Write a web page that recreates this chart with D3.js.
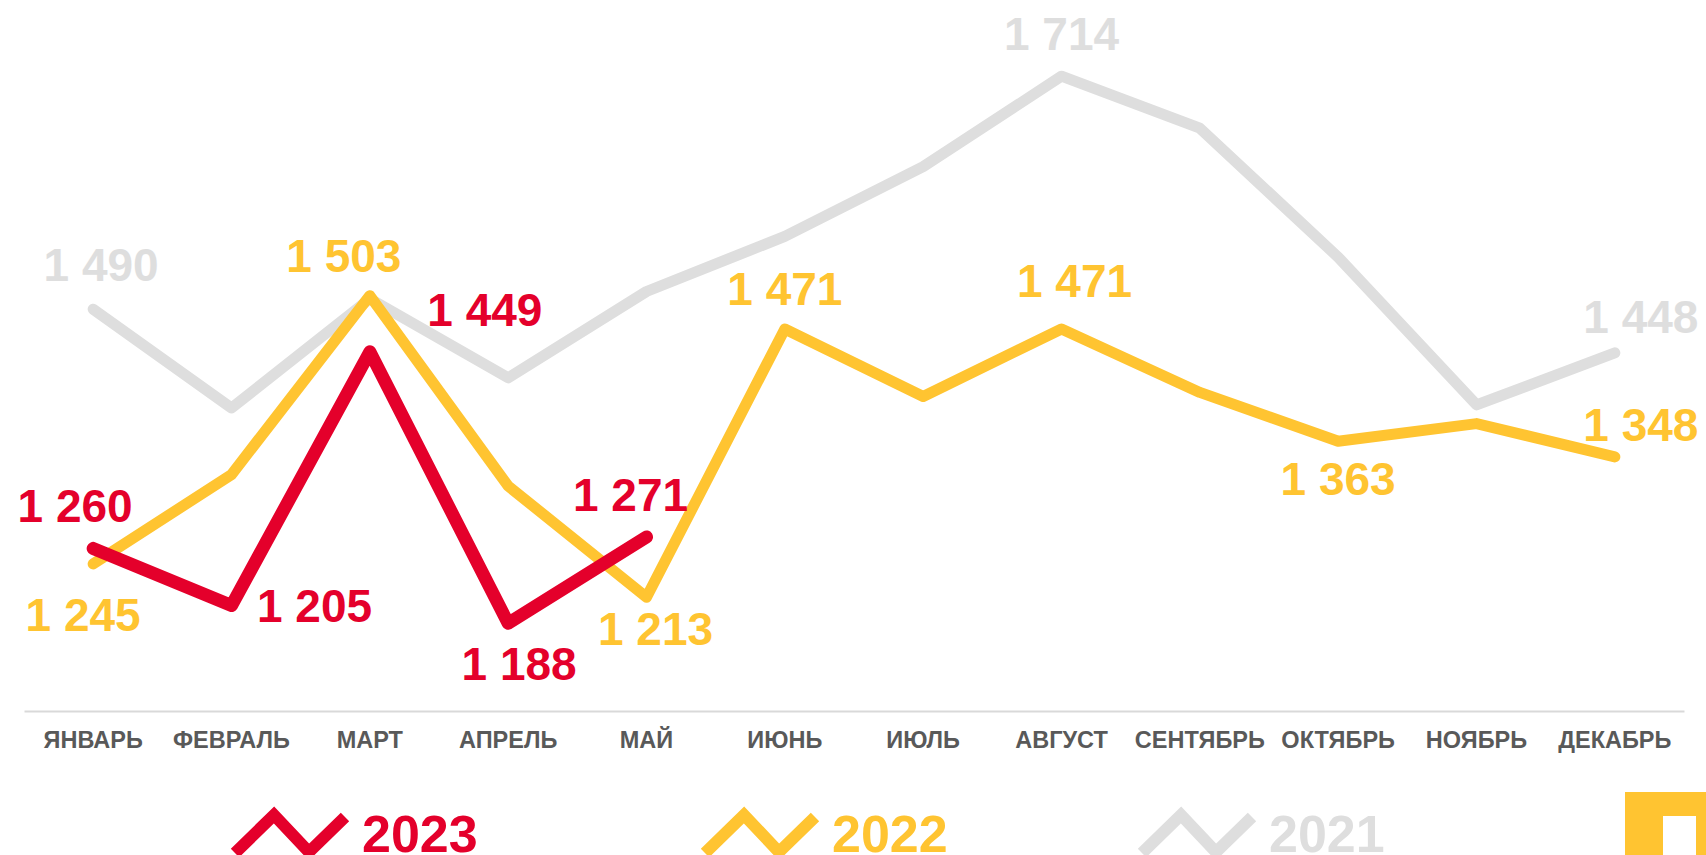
<!DOCTYPE html>
<html>
<head>
<meta charset="utf-8">
<script src="https://cdn.jsdelivr.net/npm/d3@7"></script>
<style>
  html, body { margin: 0; padding: 0; background: #fff; overflow: hidden; }
  svg { display: block; font-family: "Liberation Sans", Arial, sans-serif; }
</style>
</head>
<body>
<svg id="chart" width="1706" height="855"></svg>
<script>
// ---- data ----
const months = ["ЯНВАРЬ", "ФЕВРАЛЬ", "МАРТ", "АПРЕЛЬ", "МАЙ", "ИЮНЬ", "ИЮЛЬ", "АВГУСТ", "СЕНТЯБРЬ", "ОКТЯБРЬ", "НОЯБРЬ", "ДЕКАБРЬ"];
const seriesNames = ["2023", "2022", "2021"];
const values2023 = [1260, 1205, 1449, 1188, 1271];
const values2022 = [1245, 1331, 1503, 1320, 1213, 1471, 1406, 1471, 1410, 1363, 1380, 1348];
const values2021 = [1490, 1395, 1500, 1424, 1507, 1560, 1627, 1714, 1664, 1540, 1398, 1448];
// which points carry a value label (month index)
const labeled2023 = [0, 1, 2, 3, 4];
const labeled2022 = [0, 2, 4, 5, 7, 9, 11];
const labeled2021 = [0, 7, 11];

// ---- layout / style ----
const colors = { "2023": "#E4002B", "2022": "#FFC431", "2021": "#DEDEDE" };
const widths = { "2023": 13, "2022": 11, "2021": 11 };
// label offsets (dx, dy) from the point, per labeled index
const offsets2023 = [[-18, -26], [83, 16], [115, -26], [11, 57], [-16, -26]];
const offsets2022 = [[-10, 67], [-26, -24], [9, 48], [0, -24], [13, -32], [0, 54], [26, -16]];
const offsets2021 = [[8, -28], [0, -26], [26, -20]];

const svg = d3.select("#chart");

const x = d3.scaleBand().domain(months).range([24, 1684]);
const cx = m => x(m) + x.bandwidth() / 2;
const y = d3.scaleLinear().domain([1100, 1714]).range([714.8, 76.2]);

const fmt = v => {
  const s = String(v);
  return s.length > 3 ? s.slice(0, s.length - 3) + " " + s.slice(-3) : s;
};

// axis baseline + month labels
const axis = d3.axisBottom(x).tickSize(0).tickPadding(0);
const axisG = svg.append("g").attr("transform", "translate(0,711)").call(axis);
axisG.select(".domain").attr("stroke", "#D9D9D9").attr("stroke-width", 2);
axisG.selectAll(".tick text")
  .attr("y", 36.5)
  .attr("dy", 0)
  .attr("fill", "#595959")
  .attr("font-size", 23.5)
  .attr("font-weight", "bold")
  .attr("font-family", "'Liberation Sans', Arial, sans-serif");

const series = [
  { name: "2021", values: values2021, labeled: labeled2021, offsets: offsets2021 },
  { name: "2022", values: values2022, labeled: labeled2022, offsets: offsets2022 },
  { name: "2023", values: values2023, labeled: labeled2023, offsets: offsets2023 }
];

const line = d3.line().x((d, i) => cx(months[i])).y(d => y(d));

series.forEach(s => {
  svg.append("path")
    .datum(s.values)
    .attr("d", line)
    .attr("fill", "none")
    .attr("stroke", colors[s.name])
    .attr("stroke-width", widths[s.name])
    .attr("stroke-linecap", "round")
    .attr("stroke-linejoin", "round");
});

series.forEach(s => {
  svg.append("g").selectAll("text")
    .data(s.labeled)
    .join("text")
    .attr("x", (idx, k) => cx(months[idx]) + s.offsets[k][0])
    .attr("y", (idx, k) => y(s.values[idx]) + s.offsets[k][1])
    .attr("text-anchor", "middle")
    .attr("font-size", 46)
    .attr("font-weight", "bold")
    .attr("fill", colors[s.name])
    .text(idx => fmt(s.values[idx]));
});

// legend
const legendX = { "2023": 235, "2022": 705, "2021": 1142 };
const zig = [[0, 0], [39, -38], [74, -1], [110, -36]];
seriesNames.forEach(n => {
  const g = svg.append("g").attr("transform", `translate(${legendX[n]},853)`);
  g.append("path")
    .attr("d", d3.line()(zig))
    .attr("fill", "none")
    .attr("stroke", colors[n])
    .attr("stroke-width", 12)
    .attr("stroke-linejoin", "miter");
  g.append("text")
    .attr("x", 127)
    .attr("y", -1)
    .attr("font-size", 52)
    .attr("font-weight", "bold")
    .attr("fill", colors[n])
    .text(n);
});

// corner logo fragment
svg.append("path")
  .attr("d", "M1625,855 V792 H1706 V855 H1696 V816 H1663 V855 Z")
  .attr("fill", "#FFC431");
</script>
</body>
</html>
